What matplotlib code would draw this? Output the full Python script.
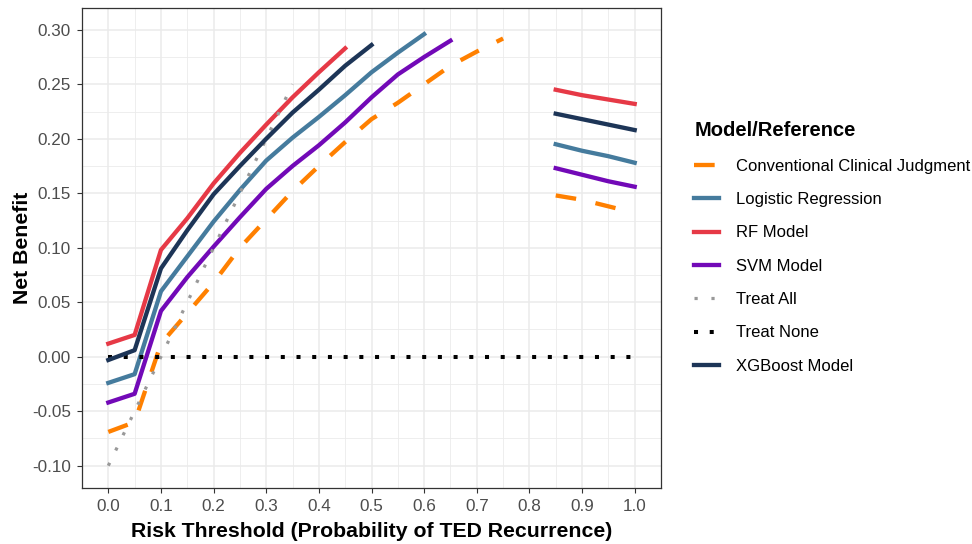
import numpy as np
import matplotlib
matplotlib.use("Agg")
from matplotlib import pyplot as plt
from matplotlib.ticker import MultipleLocator

plt.rcParams['font.family'] = ['Liberation Sans', 'DejaVu Sans']

nan = np.nan
thresholds = [0.00, 0.05, 0.10, 0.15, 0.20, 0.25, 0.30, 0.35, 0.40, 0.45, 0.50,
              0.55, 0.60, 0.65, 0.70, 0.75, 0.80, 0.85, 0.90, 0.95, 1.00]

conventional = [-0.069, -0.060, 0.012, 0.040, 0.068, 0.100, 0.126, 0.152, 0.175, 0.197, 0.218,
                0.233, 0.250, 0.267, 0.280, 0.292, nan, 0.148, 0.144, 0.138, 0.132]
logistic = [-0.024, -0.016, 0.060, 0.092, 0.124, 0.153, 0.180, 0.201, 0.220, 0.240, 0.261,
            0.279, 0.296, nan, nan, nan, nan, 0.195, 0.189, 0.184, 0.178]
rf = [0.012, 0.020, 0.098, 0.127, 0.159, 0.187, 0.213, 0.238, 0.261, 0.283, nan,
      nan, nan, nan, nan, nan, nan, 0.245, 0.240, 0.236, 0.232]
svm = [-0.042, -0.034, 0.042, 0.073, 0.101, 0.128, 0.154, 0.175, 0.194, 0.215, 0.238,
       0.259, 0.275, 0.290, nan, nan, nan, 0.173, 0.167, 0.161, 0.156]
xgb = [-0.003, 0.006, 0.081, 0.116, 0.149, 0.175, 0.200, 0.224, 0.245, 0.267, 0.286,
       nan, nan, nan, nan, nan, nan, 0.223, 0.218, 0.213, 0.208]

treat_all_x = [0.00, 0.05, 0.10, 0.15, 0.20, 0.25, 0.30, 0.35]
treat_all_y = [-0.10, -0.05, 0.00, 0.05, 0.10, 0.15, 0.20, 0.25]
treat_none_x = [0.0, 1.0]
treat_none_y = [0.0, 0.0]

fig = plt.figure(figsize=(9.72, 5.44), dpi=100)
ax = fig.add_axes([82/972, 1-487.5/544, (661-82)/972, (487.5-8)/544])

lw = 3.1
ax.plot(thresholds, conventional, color="#FF8000", lw=lw, dashes=(4.8, 4.6),
        label="Conventional Clinical Judgment")
ax.plot(thresholds, logistic, color="#457B9D", lw=lw, label="Logistic Regression")
ax.plot(thresholds, rf, color="#E63946", lw=lw, label="RF Model")
ax.plot(thresholds, svm, color="#7209B7", lw=lw, label="SVM Model")
ax.plot(treat_all_x, treat_all_y, color="#999999", lw=2.3, dashes=(1, 4.3),
        label="Treat All")
ax.plot(treat_none_x, treat_none_y, color="black", lw=2.9, dashes=(1, 2.9),
        label="Treat None")
ax.plot(thresholds, xgb, color="#1D3557", lw=lw, label="XGBoost Model")

ax.set_xlim(-0.05, 1.05)
ax.set_ylim(-0.12, 0.32)
ax.xaxis.set_minor_locator(MultipleLocator(0.05))
ax.yaxis.set_minor_locator(MultipleLocator(0.025))
xt = np.arange(0, 1.01, 0.1)
yt = np.arange(-0.10, 0.301, 0.05)
ax.set_xticks(xt)
ax.set_xticklabels([f"{v:.1f}" for v in xt])
ax.set_yticks(yt)
ax.set_yticklabels([f"{v:.2f}" if abs(v) > 1e-9 else "0.00" for v in yt])
ax.grid(which="major", color="#EBEBEB", lw=1.1)
ax.grid(which="minor", color="#EBEBEB", lw=0.6)
ax.set_axisbelow(True)
ax.tick_params(which="major", length=3.6, width=0.8, color="#333333",
               labelsize=12.3, labelcolor="#4D4D4D", pad=4.5)
ax.tick_params(which="minor", length=0)
for s in ax.spines.values():
    s.set_color("#333333")
    s.set_linewidth(0.9)

ax.set_xlabel("Risk Threshold (Probability of TED Recurrence)", fontsize=15.3,
              fontweight="bold", labelpad=6)
ax.set_ylabel("Net Benefit", fontsize=15.3, fontweight="bold", labelpad=0)

leg = fig.legend(loc="center left", bbox_to_anchor=(0.699, 0.545), frameon=False,
                 title="Model/Reference", fontsize=12, handlelength=1.5,
                 labelspacing=1.1, handletextpad=1.0)
leg.get_title().set_fontweight("bold")
leg.get_title().set_fontsize(14.5)
leg._legend_box.align = "left"

fig.savefig("out.png", dpi=100)
plt.close(fig)
